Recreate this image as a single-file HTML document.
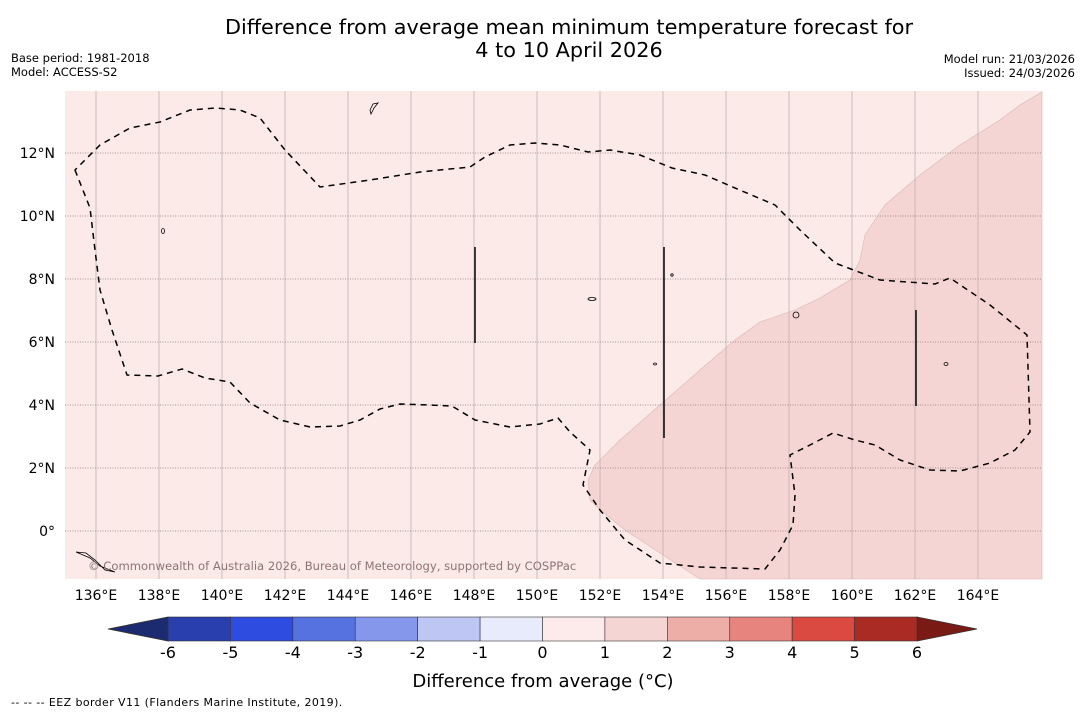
<!DOCTYPE html>
<html><head><meta charset="utf-8"><style>
body{margin:0;background:#fff;font-family:"DejaVu Sans","Liberation Sans",sans-serif}
svg{display:block}
</style></head><body>
<svg id="fig" width="1085" height="713" xmlns="http://www.w3.org/2000/svg">
<g font-family="DejaVu Sans, Liberation Sans, sans-serif">
<text x="569" y="34" font-size="20.8" text-anchor="middle">Difference from average mean minimum temperature forecast for</text>
<text x="569" y="57" font-size="20.8" text-anchor="middle">4 to 10 April 2026</text>
<text x="11" y="62" font-size="11.5">Base period: 1981-2018</text>
<text x="11" y="76" font-size="11.5">Model: ACCESS-S2</text>
<text x="1075" y="63" font-size="11.5" text-anchor="end">Model run: 21/03/2026</text>
<text x="1075" y="77" font-size="11.5" text-anchor="end">Issued: 24/03/2026</text>
<text x="11" y="706" font-size="11" letter-spacing="0.4">--  --  -- EEZ border V11 (Flanders Marine Institute, 2019).</text>
</g>
<g id="map">
<rect x="65" y="91" width="977" height="488" fill="#fbeae8"/>
<path d="M1042,92 L1020,105 L1000,120 L960,145 L920,175 L885,205 L865,235 L860,260 L850,280 L820,298 L795,310 L760,322 L735,340 L700,370 L660,405 L620,440 L595,465 L588,480 L590,500 L600,510 L625,530 L660,553 L700,579 L1042,579 Z" fill="#f5d5d3" stroke="#d9b8b6" stroke-width="0.6"/>
<g id="grid"></g>
<path d="M75,170 L90,208 L95,250 L100,290 L112,330 L127,375 L158,376 L182,369 L205,378 L230,382 L250,403 L280,420 L310,427 L340,426 L360,420 L380,409 L400,404 L430,405 L452,406 L475,420 L510,427 L540,424 L558,418 L570,432 L590,450 L583,485 L600,510 L625,540 L660,563 L700,567 L765,569 L780,550 L793,525 L795,495 L790,455 L810,445 L833,433 L855,440 L875,445 L900,460 L930,470 L960,471 L990,463 L1015,450 L1030,432 L1027,335 L990,305 L950,278 L935,284 L880,280 L835,263 L800,230 L775,205 L735,188 L705,175 L672,168 L640,155 L610,150 L588,152 L560,145 L535,143 L510,145 L485,157 L470,167 L420,172 L370,180 L320,187 L285,150 L260,118 L240,110 L215,108 L190,110 L160,122 L130,128 L100,145 Z" fill="none" stroke="#000" stroke-width="1.5" stroke-dasharray="6,5"/>
<g stroke="#111" stroke-width="1.6">
<line x1="475" y1="247" x2="475" y2="343"/><line x1="664" y1="247" x2="664" y2="438"/><line x1="916" y1="310" x2="916" y2="406"/>
</g>
<g fill="none" stroke="#000" stroke-width="0.8">
<path d="M370,110 L373,104 L378,103 L374,108 L371,114Z"/><ellipse cx="163" cy="231" rx="1.5" ry="2.5"/><ellipse cx="592" cy="299" rx="4" ry="1.5"/><ellipse cx="796" cy="315" rx="3" ry="3"/><ellipse cx="946" cy="364" rx="2" ry="1.5"/><ellipse cx="672" cy="275" rx="1.2" ry="1.2"/><ellipse cx="655" cy="364" rx="1.5" ry="1"/><path d="M76,552 L86,553 L95,560 L105,570 L115,572 L100,566 L90,558Z"/>
</g>
<text x="88" y="570" font-size="11.6" fill="#8a7575" font-family="DejaVu Sans, Liberation Sans, sans-serif">© Commonwealth of Australia 2026, Bureau of Meteorology, supported by COSPPac</text>
<g id="ticks" font-family="DejaVu Sans, Liberation Sans, sans-serif" font-size="14"></g>
</g>
<g id="cbar" font-family="DejaVu Sans, Liberation Sans, sans-serif"></g>
<text x="543" y="687" font-size="18" text-anchor="middle" font-family="DejaVu Sans, Liberation Sans, sans-serif">Difference from average (°C)</text>
</svg>
<script>
const lonTicks=[136,138,140,142,144,146,148,150,152,154,156,158,160,162,164];
const latTicks=[0,2,4,6,8,10,12];
const levels=[-6,-5,-4,-3,-2,-1,0,1,2,3,4,5,6];
const levelColors=["#2a3fae","#2e4de0","#5672e0","#8597ea","#bec7f3","#e8ebfb","#fcebea","#f5d5d3","#eeaea8","#e7847d","#da4a40","#a92b23"];
const extLowColor="#1c2a6f", extHighColor="#7a1a15";
const NS="http://www.w3.org/2000/svg";
const lonX=l=>64.5+(l-135)*31.5;
const latY=l=>531-l*31.5;
function mk(tag,attrs,parent){const e=document.createElementNS(NS,tag);for(const k in attrs)e.setAttribute(k,attrs[k]);parent.appendChild(e);return e;}
const grid=document.getElementById('grid'),ticks=document.getElementById('ticks');
lonTicks.forEach(l=>{
 const ln=mk('line',{x1:lonX(l),x2:lonX(l),y1:91,y2:579,stroke:'#b8a8a8','stroke-width':0.7},grid);
 
 
 const t=mk('text',{x:lonX(l),y:600,'text-anchor':'middle'},ticks);t.textContent=l+'°E';
 
 
});
latTicks.forEach(l=>{
 const ln=mk('line',{x1:65,x2:1042,y1:latY(l),y2:latY(l),stroke:'#8a7a7a','stroke-width':0.8,'stroke-dasharray':'1,1.5'},grid);
 
 
 const t=mk('text',{x:55,y:latY(l)+5,'text-anchor':'end'},ticks);t.textContent=(l===0?'0°':l+'°N');
 
 
});
const cb=document.getElementById('cbar');
const cx0=168,cx1=917,cy0=617,cy1=641;
const cX=v=>cx0+(v-levels[0])/(levels[levels.length-1]-levels[0])*(cx1-cx0);
const lo=mk('polygon',{points:`${cx0},${cy0} 108,629 ${cx0},${cy1}`,fill:extLowColor,stroke:'#333','stroke-width':0.8},cb);


const hi=mk('polygon',{points:`${cx1},${cy0} 977,629 ${cx1},${cy1}`,fill:extHighColor,stroke:'#333','stroke-width':0.8},cb);


levelColors.forEach((c,i)=>{
 const r=mk('rect',{x:cX(levels[i]),y:cy0,width:cX(levels[i+1])-cX(levels[i]),height:cy1-cy0,fill:c,stroke:'#333','stroke-width':0.6},cb);
 
 
});
levels.forEach(v=>{
 const t=mk('text',{x:cX(v),y:658,'text-anchor':'middle','font-size':16},cb);t.textContent=v;
 
 
});
</script>
</body></html>
